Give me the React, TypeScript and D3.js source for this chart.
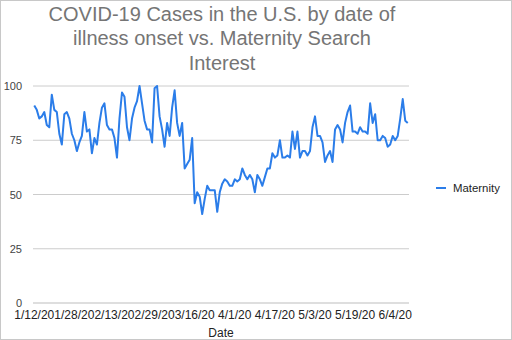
import React from "react";
import * as d3 from "d3";

const titleLines = [
  "COVID-19 Cases in the U.S. by date of",
  "illness onset vs. Maternity Search",
  "Interest",
];
const seriesName = "Maternity";
const xAxisTitle = "Date";
const startDate = new Date(2020, 0, 12);
const maternity = [
  91, 89, 85, 86, 88, 82, 81, 96, 89, 88,
  78, 73, 87, 88, 85, 78, 75, 70, 74, 77,
  88, 79, 80, 69, 76, 73, 83, 90, 92, 82,
  80, 80, 76, 67, 85, 97, 95, 81, 75, 85,
  90, 93, 100, 92, 84, 80, 80, 74, 99, 100,
  86, 80, 72, 83, 77, 90, 98, 83, 77, 83,
  62, 64, 66, 76, 46, 51, 49, 41, 48, 54,
  52, 52, 52, 42, 51, 55, 57, 56, 54, 54,
  57, 56, 57, 62, 59, 57, 59, 57, 51, 59,
  57, 54, 58, 62, 62, 69, 67, 68, 75, 67,
  67, 68, 67, 79, 71, 79, 67, 70, 70, 68,
  70, 81, 86, 77, 77, 74, 65, 68, 70, 65,
  80, 82, 80, 74, 83, 88, 91, 79, 79, 78,
  81, 79, 79, 78, 92, 83, 87, 75, 75, 77,
  76, 72, 73, 77, 75, 77, 85, 94, 84, 83,
];
const yTicks = [0, 25, 50, 75, 100];
const xLabelStep = 16;

const W = 512;
const H = 340;
const FONT = "'Liberation Sans', Arial, sans-serif";
const LINE = "#2b7de9";

export default function App() {
  const fmt = d3.timeFormat("%-m/%-d/%y");
  const categories = maternity.map((_, i) => fmt(d3.timeDay.offset(startDate, i)));
  const data = maternity.map((v, i) => ({ c: categories[i], v }));

  const left = 33, right = 409, top = 86, bottom = 303;
  const x = d3.scaleBand<string>().domain(categories).range([left, right]);
  const y = d3.scaleLinear().domain([0, 100]).range([bottom, top]);
  const cx = (c: string) => (x(c) as number) + x.bandwidth() / 2;

  const line = d3
    .line<{ c: string; v: number }>()
    .x((d) => cx(d.c))
    .y((d) => y(d.v));

  const labelCats = categories.filter((_, i) => i % xLabelStep === 0);

  return (
    <svg
      width={W}
      height={H}
      style={{ position: "absolute", left: 0, top: 0, background: "#fff" }}
      fontFamily={FONT}
    >
      <rect x={0.5} y={0.5} width={W - 1} height={H - 1} fill="#fff" stroke="#c8c8c8" />
      {titleLines.map((t, i) => (
        <text
          key={i}
          x={222}
          y={21 + i * 24.3}
          textAnchor="middle"
          fontSize={20}
          fill="#757575"
        >
          {t}
        </text>
      ))}
      {yTicks.map((t) => (
        <g key={t}>
          <line x1={left} x2={right} y1={y(t)} y2={y(t)} stroke={t === 0 ? "#bdbdbd" : "#cccccc"} strokeWidth={1} />
          <text x={22} y={y(t) + 4} textAnchor="end" fontSize={11} fill="#444">
            {t}
          </text>
        </g>
      ))}
      {labelCats.map((c) => (
        <text key={c} x={cx(c)} y={319} textAnchor="middle" fontSize={12} fill="#222">
          {c}
        </text>
      ))}
      <text x={221} y={337} textAnchor="middle" fontSize={12} fill="#222">
        {xAxisTitle}
      </text>
      <path d={line(data) ?? ""} fill="none" stroke={LINE} strokeWidth={2} strokeLinejoin="round" />
      <line x1={436} x2={446} y1={188} y2={188} stroke={LINE} strokeWidth={2} />
      <text x={453} y={192} fontSize={11.4} fill="#222">
        {seriesName}
      </text>
    </svg>
  );
}
